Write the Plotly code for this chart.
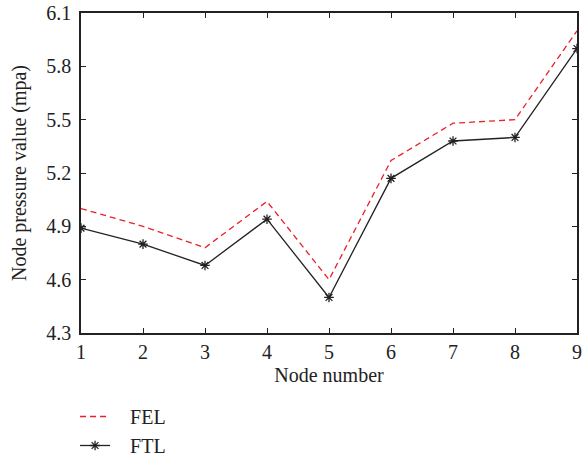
import plotly.graph_objects as go

nodes = [1, 2, 3, 4, 5, 6, 7, 8, 9]
fel = [5.00, 4.90, 4.78, 5.04, 4.60, 5.27, 5.48, 5.50, 6.00]
ftl = [4.89, 4.80, 4.68, 4.94, 4.50, 5.17, 5.38, 5.40, 5.90]
y_ticks = [4.3, 4.6, 4.9, 5.2, 5.5, 5.8, 6.1]

font_family = "Liberation Serif, Times New Roman, serif"
ink = "#222222"
pad = "\u00a0\u00a0\u00a0"

fig = go.Figure()
fig.add_trace(go.Scatter(
    x=nodes, y=fel, name=pad + "FEL", mode="lines",
    line=dict(color="#e8202a", width=1.3, dash="6px,4px"),
))
fig.add_trace(go.Scatter(
    x=nodes, y=ftl, name=pad + "FTL", mode="lines+markers",
    line=dict(color=ink, width=1.3),
    marker=dict(symbol="asterisk-open", size=8, color=ink,
                line=dict(color=ink, width=1.3)),
))

axis_common = dict(
    showline=True, linecolor=ink, linewidth=1.5, mirror="ticks",
    ticks="inside", ticklen=5, tickcolor=ink, tickwidth=1,
    showgrid=False, zeroline=False, automargin=False,
    tickfont=dict(family=font_family, size=20, color=ink),
)

fig.update_layout(
    width=582, height=457,
    margin=dict(l=81, r=5, t=13, b=124, autoexpand=False),
    paper_bgcolor="white", plot_bgcolor="white",
    font=dict(family=font_family, size=20, color=ink),
    xaxis=dict(range=[1, 9], tickvals=nodes,
               title=dict(text="Node number", standoff=6,
                          font=dict(family=font_family, size=20, color=ink)),
               **axis_common),
    yaxis=dict(range=[4.3, 6.1], tickvals=y_ticks,
               ticktext=[f"{v:.1f}" for v in y_ticks],
               ticklabelstandoff=4,
               title=dict(text="Node pressure value (mpa)", standoff=14,
                          font=dict(family=font_family, size=20, color=ink)),
               **axis_common),
    legend=dict(x=-0.012, xanchor="left", y=-0.2, yanchor="top",
                orientation="v", bgcolor="rgba(0,0,0,0)",
                font=dict(family=font_family, size=20, color=ink),
                tracegroupgap=0, itemwidth=30),
    showlegend=True,
)

fig.write_html("out.html", config={"displayModeBar": False},
               post_script="document.body.style.margin='0';")
